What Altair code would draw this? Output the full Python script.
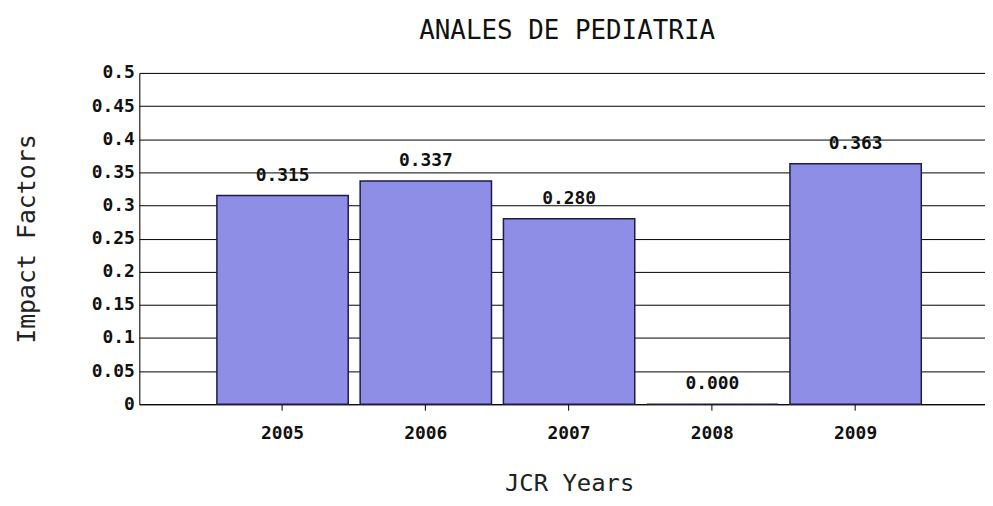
import altair as alt
import pandas as pd

years = ["2005", "2006", "2007", "2008", "2009"]
impact = [0.315, 0.337, 0.280, 0.000, 0.363]
labels = ["0.315", "0.337", "0.280", "0.000", "0.363"]
y_ticks = [0, 0.05, 0.1, 0.15, 0.2, 0.25, 0.3, 0.35, 0.4, 0.45, 0.5]

df = pd.DataFrame({"year": years, "impact": impact, "label": labels})

MONO = "DejaVu Sans Mono"
W, H = 850, 333

x = alt.X(
    "year:N",
    sort=years,
    scale=alt.Scale(paddingInner=0.0833, paddingOuter=0.493, align=0.549),
    axis=alt.Axis(
        title="JCR Years",
        labelAngle=0,
        labelFont=MONO,
        labelFontWeight="bold",
        labelFontSize=18,
        labelColor="#111",
        labelPadding=14,
        tickSize=6,
        tickColor="#000",
        domainColor="#000",
        grid=False,
        titleFont=MONO,
        titleFontWeight="normal",
        titleFontSize=24,
        titleColor="#222",
        titleX=432,
        titleY=80,
        titleBaseline="middle",
        titleAnchor="middle",
    ),
)

y = alt.Y(
    "impact:Q",
    scale=alt.Scale(domain=[0, 0.5], nice=False),
    axis=alt.Axis(
        title="Impact Factors",
        values=y_ticks,
        labelOverlap=False,
        format=".2~f",
        labelFont=MONO,
        labelFontWeight="bold",
        labelFontSize=18,
        labelColor="#111",
        labelPadding=5,
        ticks=False,
        domainColor="#000",
        grid=True,
        gridColor="#000",
        gridOpacity=1,
        gridWidth=1,
        titleFont=MONO,
        titleFontWeight="normal",
        titleFontSize=25,
        titleColor="#222",
        titleAngle=-90,
        titleX=-113,
        titleY=H / 2,
        titleBaseline="middle",
        titleAlign="center",
    ),
)

base = alt.Chart(df).encode(x=x, y=y)

bars = base.mark_bar(color="#8e8ee6", stroke="#1c1c4a", strokeWidth=1.5)

text = base.mark_text(
    font=MONO, fontWeight="bold", fontSize=18, color="#111",
    baseline="bottom", dy=-11
).encode(text="label:N")

chart = (
    alt.layer(bars, text)
    .properties(
        width=W,
        height=H,
        title=alt.TitleParams(
            "ANALES DE PEDIATRIA",
            font=MONO,
            fontSize=26,
            fontWeight="normal",
            color="#111",
            anchor="middle",
            offset=20,
            dx=5,
        ),
        autosize=alt.AutoSizeParams(type="none"),
        padding={"left": 132, "top": 64, "right": 0, "bottom": 93},
    )
    .configure_view(stroke=None)
    .configure(background="white")
)

chart.save("out.html", embed_options={"renderer": "svg", "actions": False})
